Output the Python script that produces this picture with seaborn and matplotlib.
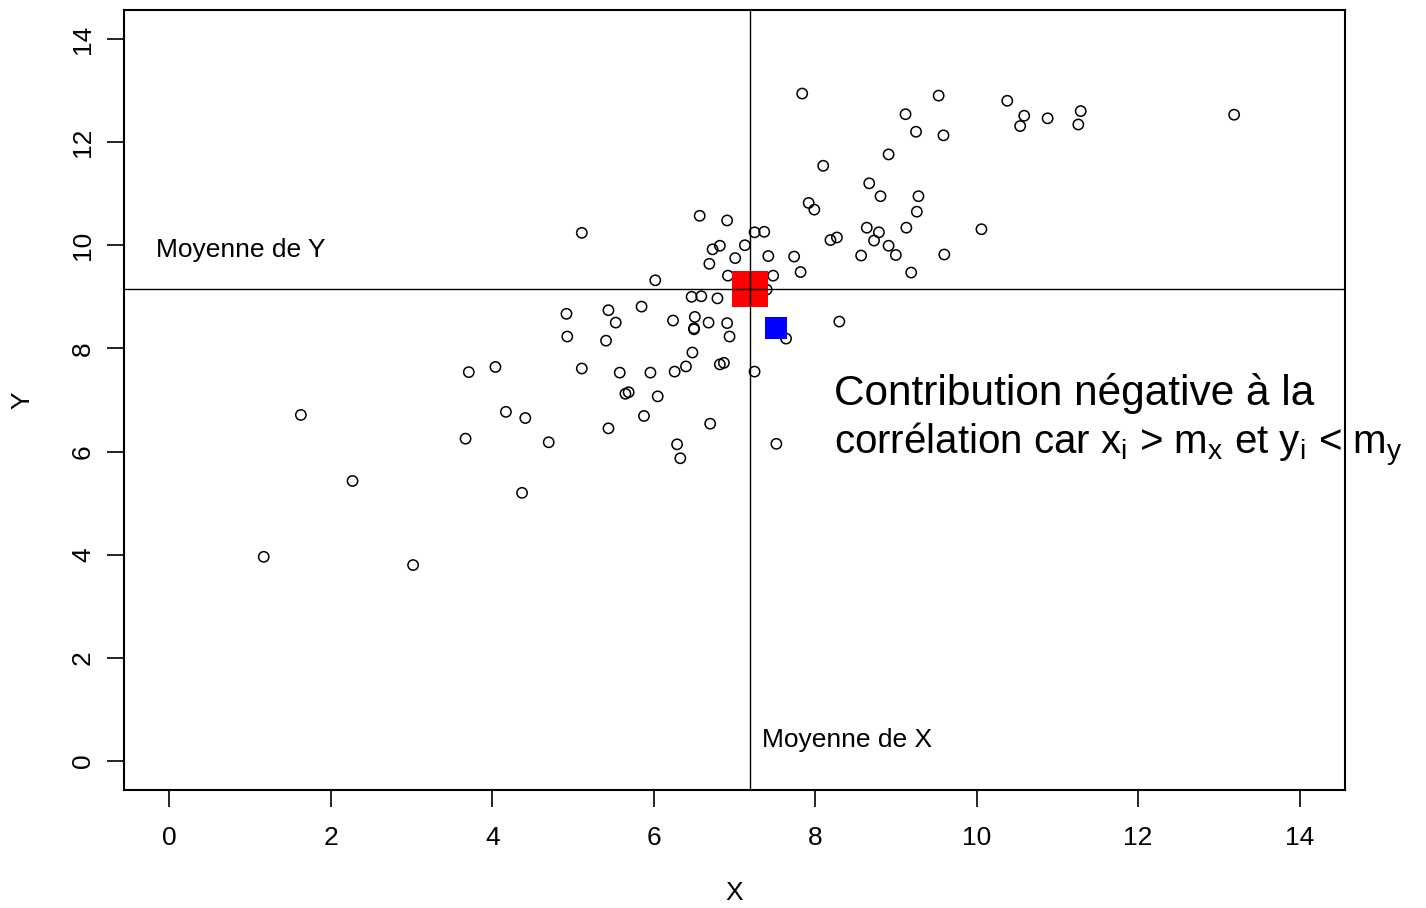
import matplotlib
matplotlib.use("Agg")
import matplotlib.pyplot as plt
import numpy as np
import pandas as pd
import seaborn as sns

# ---- data ----
x_vals = [1.17, 1.63, 2.27, 3.02, 3.67, 3.71, 4.04, 4.17, 4.41, 4.37, 4.70,
          5.11, 4.92, 4.93, 5.11, 5.44, 5.53, 5.41, 5.44, 5.58, 5.65, 5.69,
          5.85, 5.88, 5.96, 6.02, 6.05, 6.24, 6.26, 6.29, 6.33, 6.40, 6.47,
          6.48, 6.51, 6.50, 6.50, 6.57, 6.59, 6.68, 6.69, 6.70, 6.73, 6.79,
          6.82, 6.82, 6.87, 6.91, 6.91, 6.92, 6.94, 7.01, 7.13, 7.25, 7.25,
          7.37, 7.40, 7.42, 7.48, 7.52, 7.64, 7.74, 7.82, 7.84, 7.92, 7.99,
          8.10, 8.19, 8.27, 8.30, 8.57, 8.64, 8.67, 8.73, 8.79, 8.81, 8.91,
          8.91, 9.00, 9.12, 9.13, 9.19, 9.25, 9.26, 9.28, 9.53, 9.59, 9.60,
          10.06, 10.38, 10.54, 10.59, 10.88, 11.26, 11.29, 13.19]
y_vals = [3.96, 6.71, 5.43, 3.80, 6.25, 7.54, 7.64, 6.77, 6.65, 5.20, 6.18,
          10.24, 8.67, 8.23, 7.61, 8.74, 8.50, 8.15, 6.45, 7.53, 7.12, 7.15,
          8.81, 6.69, 7.53, 9.32, 7.07, 8.54, 7.55, 6.14, 5.87, 7.65, 9.00,
          7.92, 8.61, 8.39, 8.37, 10.57, 9.01, 8.50, 9.64, 6.54, 9.92, 8.97,
          9.99, 7.69, 7.72, 10.48, 8.49, 9.41, 8.23, 9.75, 10.00, 10.25, 7.55,
          10.26, 9.14, 9.79, 9.41, 6.15, 8.19, 9.78, 9.48, 12.94, 10.82, 10.69,
          11.54, 10.10, 10.15, 8.52, 9.80, 10.34, 11.20, 10.09, 10.25, 10.95, 11.76,
          9.99, 9.81, 12.54, 10.34, 9.47, 12.20, 10.65, 10.95, 12.90, 12.13, 9.82,
          10.31, 12.80, 12.31, 12.51, 12.46, 12.34, 12.60, 12.53]
mean_x = 7.19
mean_y = 9.15
point_x = [7.51]
point_y = [8.39]
x_ticks = [0, 2, 4, 6, 8, 10, 12, 14]
y_ticks = [0, 2, 4, 6, 8, 10, 12, 14]

sns.set_theme(style="white")
plt.rcParams['font.family'] = ['Liberation Sans', 'DejaVu Sans']
plt.rcParams['mathtext.fontset'] = 'custom'
plt.rcParams['mathtext.rm'] = 'Liberation Sans'
plt.rcParams['mathtext.it'] = 'Liberation Sans'
plt.rcParams['text.color'] = 'black'
plt.rcParams['axes.labelcolor'] = 'black'
plt.rcParams['xtick.color'] = 'black'
plt.rcParams['ytick.color'] = 'black'

fig = plt.figure(figsize=(14.26, 9.08), dpi=100)
ax = fig.add_axes([0.087, 0.130, 0.856, 0.859])

df = pd.DataFrame({"X": x_vals, "Y": y_vals})
sns.scatterplot(data=df, x="X", y="Y", ax=ax, marker="o", s=55,
                facecolor="none", edgecolor="black", linewidth=1.1, zorder=2)

sns.scatterplot(x=[mean_x], y=[mean_y], ax=ax, marker="s", s=690,
                color="#ff0000", linewidth=0, zorder=3)
sns.scatterplot(x=point_x, y=point_y, ax=ax, marker="s", s=270,
                color="#0000ff", linewidth=0, zorder=3)

ax.axvline(mean_x, color="black", lw=1.0, zorder=4)
ax.axhline(mean_y, color="black", lw=1.0, zorder=4)

ax.set_xlim(-0.56, 14.56)
ax.set_ylim(-0.56, 14.56)
ax.set_xticks(x_ticks)
ax.set_yticks(y_ticks)
ax.set_xticklabels([str(t) for t in x_ticks])
ax.set_yticklabels([str(t) for t in y_ticks], rotation=90, va="center")

ax.tick_params(axis="both", direction="out", length=12, width=1.2,
               color="black", labelsize=19, labelcolor="black",
               bottom=True, left=True)
ax.tick_params(axis="x", pad=14)
ax.tick_params(axis="y", pad=9)

for sp in ax.spines.values():
    sp.set_color("black")
    sp.set_linewidth(1.5)

ax.set_xlabel("X", fontsize=19, labelpad=22, color="black")
ax.set_ylabel("Y", fontsize=19, labelpad=26, color="black")

ax.text(-0.16, 9.90, "Moyenne de Y", fontsize=19, va="center", ha="left",
        color="black")
ax.text(7.34, 0.41, "Moyenne de X", fontsize=19, va="center", ha="left",
        color="black")
ax.text(8.23, 7.12, "Contribution négative à la", fontsize=30.5,
        va="center", ha="left", color="black")
ax.text(8.23, 6.12,
        r"corrélation car x$_\mathregular{i}$ > m$_\mathregular{x}$ et y$_\mathregular{i}$ < m$_\mathregular{y}$",
        fontsize=29, va="center", ha="left", color="black")

fig.savefig("out.png", dpi=100)
